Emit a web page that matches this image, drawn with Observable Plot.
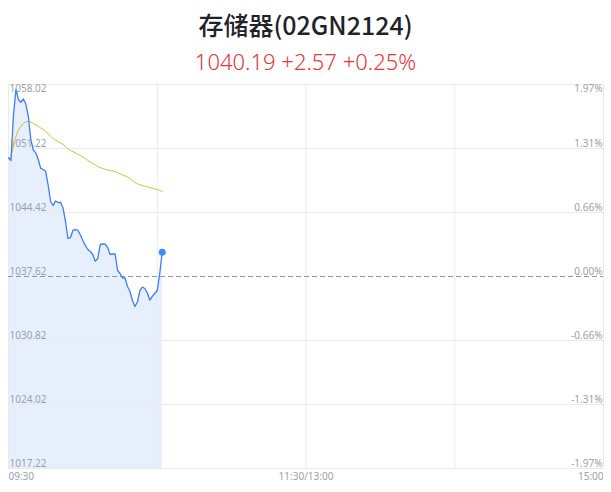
<!DOCTYPE html>
<html>
<head>
<meta charset="utf-8">
<script src="https://cdn.jsdelivr.net/npm/d3@7"></script>
<script src="https://cdn.jsdelivr.net/npm/@observablehq/plot@0.6"></script>
<style>
  html, body { margin: 0; padding: 0; background: #fff; }
  body { width: 611px; height: 492px; position: relative; overflow: hidden; font-family: "Noto Sans CJK SC", "Noto Sans", sans-serif; }
  #title { position: absolute; left: 0; width: 611px; top: 6px; text-align: center; font-size: 25px; font-weight: 500; color: #1f2329; line-height: 36px; }
  #sub { position: absolute; left: 0; width: 611px; top: 46px; text-align: center; font-size: 22px; color: #e8353a; line-height: 30px; font-family: "Noto Sans", sans-serif; font-weight: 300; }
  #chart { position: absolute; left: 0; top: 80px; }
</style>
</head>
<body>
<div id="title">存储器(02GN2124)</div>
<div id="sub">1040.19 +2.57 +0.25%</div>
<div id="chart"></div>
<script>
// minutes since 09:30
const minutes = d3.range(0, 63);
const prices = [
  1050.23, 1049.95, 1054.73, 1057.49, 1056.43, 1056.14, 1056.48, 1055.95, 1054.62, 1052.18,
  1051.06, 1050.76, 1050.05, 1049.10, 1048.99, 1048.78, 1047.29, 1045.59, 1045.16, 1045.64,
  1045.48, 1045.51, 1044.90, 1043.46, 1041.66, 1041.76, 1042.51, 1042.61, 1042.51, 1042.03,
  1041.45, 1040.91, 1040.49, 1040.28, 1039.96, 1039.25, 1039.53, 1041.02, 1041.09, 1041.07,
  1040.70, 1039.96, 1040.01, 1040.01, 1038.26, 1037.94, 1037.46, 1037.46, 1036.56, 1036.03,
  1035.07, 1034.43, 1034.91, 1036.13, 1036.50, 1036.35, 1035.87, 1035.12, 1035.50, 1035.81,
  1036.13, 1037.94, 1040.19
];
const averages = [
  1050.12, 1050.37, 1051.54, 1052.49, 1053.19, 1053.56, 1053.88, 1054.04, 1054.12, 1054.04,
  1053.88, 1053.72, 1053.59, 1053.40, 1053.24, 1053.03, 1052.76, 1052.49, 1052.28, 1052.12,
  1051.96, 1051.80, 1051.65, 1051.43, 1051.17, 1051.01, 1050.90, 1050.74, 1050.58, 1050.48,
  1050.32, 1050.16, 1049.95, 1049.79, 1049.63, 1049.47, 1049.31, 1049.18, 1049.10, 1049.01,
  1048.94, 1048.88, 1048.83, 1048.78, 1048.67, 1048.54, 1048.40, 1048.30, 1048.19, 1048.03,
  1047.82, 1047.61, 1047.47, 1047.36, 1047.29, 1047.21, 1047.14, 1047.08, 1047.00, 1046.93,
  1046.84, 1046.76, 1046.68
];
const prevClose = 1037.62;
const yTicks = [1058.02, 1051.22, 1044.42, 1037.62, 1030.82, 1024.02, 1017.22];
const yTickLabels = ["1058.02", "1051.22", "1044.42", "1037.62", "1030.82", "1024.02", "1017.22"];
const pctLabels = ["1.97%", "1.31%", "0.66%", "0.00%", "-0.66%", "-1.31%", "-1.97%"];
const xTicks = [0, 60, 120, 180, 240];
const xLabelTicks = [0, 120, 240];
const xLabels = ["09:30", "11:30/13:00", "15:00"];

const series = minutes.map((m, i) => ({m, price: prices[i], avg: averages[i]}));
const last = series[series.length - 1];
const yMin = yTicks[yTicks.length - 1], yMax = yTicks[0];
const tickRows = yTicks.map((v, i) => ({v, label: yTickLabels[i], pct: pctLabels[i], top: i === 0}));
const topRows = tickRows.filter(d => d.top);
const otherRows = tickRows.filter(d => !d.top);
const gridColor = "#e9eaf0";
const labelColor = "#9a9fae";

const chart = Plot.plot({
  width: 611,
  height: 412,
  marginTop: 4,
  marginBottom: 24,
  marginLeft: 8,
  marginRight: 8,
  x: {domain: [0, 240], axis: null},
  y: {domain: [yMin, yMax], axis: null},
  style: {fontFamily: "'Noto Sans', sans-serif", fontSize: "10px"},
  marks: [
    Plot.areaY(series, {x: "m", y1: yMin, y2: "price", fill: "#e8effc", fillOpacity: 1}),
    Plot.ruleY(yTicks.filter(v => v !== prevClose), {stroke: gridColor, strokeWidth: 1}),
    Plot.ruleX(xTicks, {stroke: gridColor, strokeWidth: 1}),
    Plot.ruleY([prevClose], {stroke: "#8d94ab", strokeWidth: 1, strokeDasharray: "5,3"}),
    Plot.line(series, {x: "m", y: "avg", stroke: "#d8bd2c", strokeWidth: 1, curve: "linear"}),
    Plot.line(series, {x: "m", y: "price", stroke: "#3b7ff2", strokeWidth: 1.3, curve: "linear"}),
    Plot.dot([last], {x: "m", y: "price", r: 3.5, fill: "#3b8ef6", stroke: null}),
    Plot.text(otherRows, {x: 0, y: "v", text: "label", textAnchor: "start", dx: 1, lineAnchor: "bottom", dy: -2, fill: labelColor}),
    Plot.text(topRows, {x: 0, y: "v", text: "label", textAnchor: "start", dx: 1, lineAnchor: "top", dy: 0, fill: labelColor}),
    Plot.text(otherRows, {x: 240, y: "v", text: "pct", textAnchor: "end", dx: -1, lineAnchor: "bottom", dy: -2, fill: labelColor}),
    Plot.text(topRows, {x: 240, y: "v", text: "pct", textAnchor: "end", dx: -1, lineAnchor: "top", dy: 0, fill: labelColor}),
    Plot.text(xLabelTicks.slice(0, 1).map(t => ({t, label: xLabels[0]})), {x: "t", y: yMin, text: "label", lineAnchor: "top", dy: 4, textAnchor: "start", fill: labelColor}),
    Plot.text(xLabelTicks.slice(1, 2).map(t => ({t, label: xLabels[1]})), {x: "t", y: yMin, text: "label", lineAnchor: "top", dy: 4, textAnchor: "middle", fill: labelColor}),
    Plot.text(xLabelTicks.slice(2, 3).map(t => ({t, label: xLabels[2]})), {x: "t", y: yMin, text: "label", lineAnchor: "top", dy: 4, textAnchor: "end", fill: labelColor})
  ]
});
document.getElementById("chart").appendChild(chart);
</script>
</body>
</html>
